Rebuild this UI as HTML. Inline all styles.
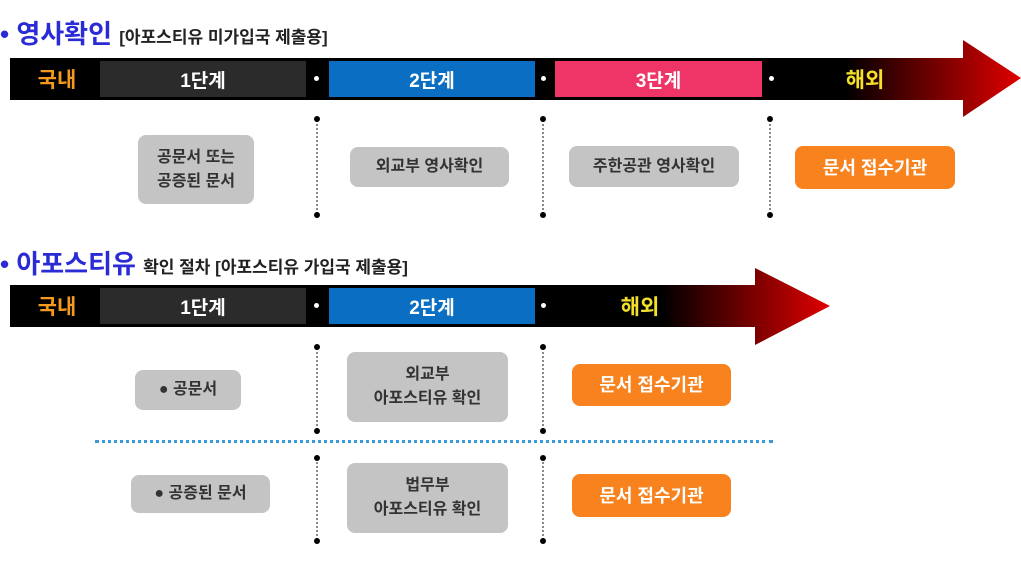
<!DOCTYPE html><html><head><meta charset="utf-8"><style>
body{margin:0;width:1021px;height:572px;background:#fff;position:relative;overflow:hidden;font-family:"Liberation Sans","Noto Sans CJK KR","NanumGothic",sans-serif}
.a{position:absolute}
.t{font-weight:bold;display:flex;align-items:center;justify-content:center;text-align:center}
.box{position:absolute;border-radius:8px;background:#c4c4c4;color:#333;font-weight:bold;font-size:16px;display:flex;align-items:center;justify-content:center;text-align:center;line-height:24px}
.or{background:#f7821e;color:#fff;font-size:18px}
.vd{position:absolute;width:0;border-left:2px dotted #888}
.dot{position:absolute;width:6px;height:6px;border-radius:50%;background:#000}
.wd{position:absolute;width:5px;height:5px;border-radius:50%;background:#fff}
</style></head><body>
<svg class="a" style="left:0;top:0" width="1021" height="572">
<defs><linearGradient id="g1" x1="770" x2="1021" gradientUnits="userSpaceOnUse"><stop offset="0.3" stop-color="#000"/><stop offset="1" stop-color="#e00000"/></linearGradient>
<linearGradient id="g2" x1="550" x2="830" gradientUnits="userSpaceOnUse"><stop offset="0.4" stop-color="#000"/><stop offset="1" stop-color="#e00000"/></linearGradient></defs>
<polygon points="10,58 963,58 963,40 1021,78 963,117 963,100 10,100" fill="url(#g1)"/>
<polygon points="10,285 755,285 755,268 830,306 755,345 755,327 10,327" fill="url(#g2)"/>
</svg>
<div class="a" style="left:0;top:14px;font-size:26px;font-weight:bold;color:#2b2bd6">• 영사확인 <span style="font-size:17px;color:#222">[아포스티유 미가입국 제출용]</span></div>
<div class="a" style="left:0;top:244px;font-size:26px;font-weight:bold;color:#2b2bd6">• 아포스티유 <span style="font-size:17px;color:#222">확인 절차 [아포스티유 가입국 제출용]</span></div>
<!-- bar1 -->
<div class="a t" style="left:14px;top:61px;width:86px;height:36px;color:#f39a1c;font-size:21px">국내</div>
<div class="a t" style="left:100px;top:61px;width:206px;height:36px;background:#2b2b2b;color:#fff;font-size:19px">1단계</div>
<div class="wd" style="left:314px;top:76px"></div>
<div class="a t" style="left:329px;top:61px;width:206px;height:36px;background:#0a6fc2;color:#fff;font-size:19px">2단계</div>
<div class="wd" style="left:541px;top:76px"></div>
<div class="a t" style="left:555px;top:61px;width:207px;height:36px;background:#ef3568;color:#fff;font-size:19px">3단계</div>
<div class="wd" style="left:769px;top:76px"></div>
<div class="a t" style="left:820px;top:61px;width:90px;height:36px;color:#f2e02a;font-size:21px">해외</div>
<!-- bar2 -->
<div class="a t" style="left:14px;top:288px;width:86px;height:36px;color:#f39a1c;font-size:21px">국내</div>
<div class="a t" style="left:100px;top:288px;width:206px;height:36px;background:#2b2b2b;color:#fff;font-size:19px">1단계</div>
<div class="wd" style="left:314px;top:303px"></div>
<div class="a t" style="left:329px;top:288px;width:206px;height:36px;background:#0a6fc2;color:#fff;font-size:19px">2단계</div>
<div class="wd" style="left:541px;top:303px"></div>
<div class="a t" style="left:595px;top:288px;width:90px;height:36px;color:#f2e02a;font-size:21px">해외</div>
<!-- verticals section1 -->
<div class="vd" style="left:316px;top:120px;height:94px"></div><div class="dot" style="left:314px;top:116px"></div><div class="dot" style="left:314px;top:212px"></div>
<div class="vd" style="left:542px;top:120px;height:94px"></div><div class="dot" style="left:540px;top:116px"></div><div class="dot" style="left:540px;top:212px"></div>
<div class="vd" style="left:769px;top:120px;height:94px"></div><div class="dot" style="left:767px;top:116px"></div><div class="dot" style="left:767px;top:212px"></div>
<div class="box" style="left:138px;top:135px;width:116px;height:69px">공문서 또는<br>공증된 문서</div>
<div class="box" style="left:350px;top:147px;width:159px;height:40px">외교부 영사확인</div>
<div class="box" style="left:569px;top:146px;width:170px;height:41px">주한공관 영사확인</div>
<div class="box or" style="left:795px;top:146px;width:160px;height:43px">문서 접수기관</div>
<!-- section2 -->
<div class="vd" style="left:316px;top:348px;height:82px"></div><div class="dot" style="left:314px;top:344px"></div><div class="dot" style="left:314px;top:428px"></div>
<div class="vd" style="left:542px;top:348px;height:82px"></div><div class="dot" style="left:540px;top:344px"></div><div class="dot" style="left:540px;top:428px"></div>
<div class="a" style="left:95px;top:440px;width:678px;border-top:3px dotted #3a9ad9"></div>
<div class="vd" style="left:316px;top:458px;height:82px"></div><div class="dot" style="left:314px;top:455px"></div><div class="dot" style="left:314px;top:538px"></div>
<div class="vd" style="left:542px;top:458px;height:82px"></div><div class="dot" style="left:540px;top:455px"></div><div class="dot" style="left:540px;top:538px"></div>
<div class="box" style="left:135px;top:370px;width:106px;height:40px">● 공문서</div>
<div class="box" style="left:347px;top:352px;width:161px;height:70px">외교부<br>아포스티유 확인</div>
<div class="box or" style="left:572px;top:364px;width:159px;height:42px">문서 접수기관</div>
<div class="box" style="left:131px;top:475px;width:139px;height:38px">● 공증된 문서</div>
<div class="box" style="left:347px;top:463px;width:161px;height:70px">법무부<br>아포스티유 확인</div>
<div class="box or" style="left:572px;top:474px;width:159px;height:43px">문서 접수기관</div>
</body></html>
